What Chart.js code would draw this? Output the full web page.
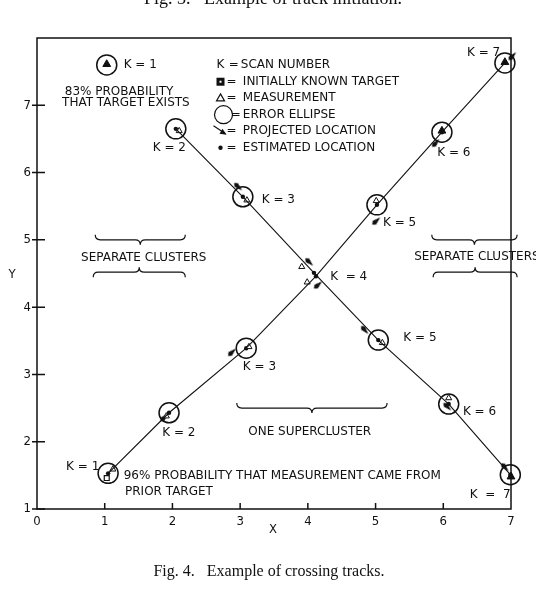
<!DOCTYPE html>
<html>
<head>
<meta charset="utf-8">
<script src="https://cdn.jsdelivr.net/npm/chart.js@4.4.0/dist/chart.umd.min.js"></script>
<style>
  html, body { margin: 0; padding: 0; background: #fff; }
  canvas { display: block; }
</style>
</head>
<body>
<canvas id="crossingChart" width="536" height="604"></canvas>
<script>
// scan number K = 1..7
const scans = [1, 2, 3, 4, 5, 6, 7];

// track rising from lower left (initially known target at K = 1)
const estAX = [1.05, 1.95, 3.09, 4.12, 5.02, 5.98, 6.91];
const estAY = [1.53, 2.43, 3.39, 4.46, 5.52, 6.60, 7.63];
const measAX = [1.12, 1.91, 3.13, 3.99, 5.01, 5.98, 6.91];
const measAY = [1.59, 2.38, 3.41, 4.37, 5.58, 6.62, 7.64];
const projAX = [null, 1.88, 2.88, 4.15, 5.01, 5.89, 7.02];
const projAY = [null, 2.36, 3.33, 4.33, 5.28, 6.44, 7.73];
const filledA = [false, false, false, false, false, true, true];

// track falling from upper left (new target at K = 1)
const estBX = [1.03, 2.05, 3.04, 4.09, 5.04, 6.08, 6.99];
const estBY = [7.60, 6.65, 5.64, 4.51, 3.51, 2.56, 1.51];
const measBX = [1.03, 2.10, 3.10, 3.91, 5.10, 6.08, 7.00];
const measBY = [7.61, 6.62, 5.59, 4.60, 3.47, 2.65, 1.48];
const projBX = [null, null, 2.97, 4.02, 4.84, 6.06, 6.91];
const projBY = [null, null, 5.79, 4.67, 3.66, 2.52, 1.62];
const filledB = [true, false, false, false, false, false, true];

const knownTargetX = [1.03];
const knownTargetY = [1.46];

const xTicks = [0, 1, 2, 3, 4, 5, 6, 7];
const yTicks = [1, 2, 3, 4, 5, 6, 7];

// text notes placed in data units: [text, x, y]
const notes = [
    ['K = 1', 1.28, 7.60],
    ['83% PROBABILITY', 0.41, 7.20],
    ['THAT TARGET EXISTS', 0.37, 7.03],
    ['K = 2', 1.71, 6.36],
    ['K = 3', 3.32, 5.59],
    ['K = 7', 6.35, 7.78],
    ['K = 6', 5.91, 6.29],
    ['K = 5', 5.11, 5.25],
    ['SEPARATE CLUSTERS', 0.65, 4.73],
    ['SEPARATE CLUSTERS', 5.57, 4.74],
    ['K  = 4', 4.33, 4.45],
    ['K = 5', 5.41, 3.54],
    ['K = 3', 3.04, 3.11],
    ['K = 2', 1.85, 2.13],
    ['ONE SUPERCLUSTER', 3.12, 2.14],
    ['K = 6', 6.29, 2.44],
    ['K = 1', 0.43, 1.62],
    ['96% PROBABILITY THAT MEASUREMENT CAME FROM', 1.28, 1.49],
    ['PRIOR TARGET', 1.30, 1.25],
    ['K  =  7', 6.39, 1.21]
];

const keyRows = [
    ['K', 'SCAN NUMBER', 7.60],
    ['square', 'INITIALLY KNOWN TARGET', 7.35],
    ['triangle', 'MEASUREMENT', 7.11],
    ['circle', 'ERROR ELLIPSE', 6.86],
    ['arrow', 'PROJECTED LOCATION', 6.62],
    ['dot', 'ESTIMATED LOCATION', 6.37]
];

// braces: [x1, x2, y, tip direction (1 = down, -1 = up)]
const braces = [
    [0.86, 2.19, 5.00, 1],
    [0.83, 2.19, 4.52, -1],
    [5.83, 7.09, 5.00, 1],
    [5.85, 7.09, 4.52, -1],
    [2.95, 5.17, 2.50, 1]
];

const FONT = '"DejaVu Sans", sans-serif';
const TICK_FONT = '"DejaVu Sans Condensed", "DejaVu Sans", sans-serif';
const black = '#111';

const pts = (xs, ys, keep) => xs
    .map((x, i) => ({ x: x, y: ys[i], i: i }))
    .filter(p => p.x !== null && (!keep || keep(p.i)));

const arrowPts = (px, py, ex, ey) => pts(px, py).map(p => ({
    x: p.x, y: p.y, fx: ex[p.i - 1], fy: ey[p.i - 1]
}));

// slim arrowhead marker, pointing up before rotation
const arrowHead = document.createElement('canvas');
arrowHead.width = 6;
arrowHead.height = 11;
(function () {
    const g = arrowHead.getContext('2d');
    g.fillStyle = black;
    g.beginPath();
    g.moveTo(3, 0);
    g.lineTo(5.5, 8);
    g.lineTo(3, 11);
    g.lineTo(0.5, 8);
    g.closePath();
    g.fill();
})();

function arrowRotation(c) {
    const p = c.raw;
    if (!p || p.fx === undefined) return 0;
    const xs = c.chart.scales.x, ys = c.chart.scales.y;
    const dx = xs.getPixelForValue(p.x) - xs.getPixelForValue(p.fx);
    const dy = ys.getPixelForValue(p.y) - ys.getPixelForValue(p.fy);
    return Math.atan2(dx, -dy) * 180 / Math.PI;
}

function drawBrace(ctx, x1, x2, y, dir) {
    const h = 5, r = 5, xm = (x1 + x2) / 2;
    ctx.beginPath();
    ctx.moveTo(x1, y - dir * h);
    ctx.quadraticCurveTo(x1, y, x1 + r, y);
    ctx.lineTo(xm - r, y);
    ctx.quadraticCurveTo(xm, y, xm, y + dir * h);
    ctx.quadraticCurveTo(xm, y, xm + r, y);
    ctx.lineTo(x2 - r, y);
    ctx.quadraticCurveTo(x2, y, x2, y - dir * h);
    ctx.stroke();
}

const figurePlugin = {
    id: 'figure',
    beforeDraw(chart) {
        const ctx = chart.ctx;
        ctx.save();
        ctx.fillStyle = '#fff';
        ctx.fillRect(0, 0, chart.width, chart.height);
        ctx.restore();
    },
    afterDraw(chart) {
        const ctx = chart.ctx;
        const a = chart.chartArea;
        const X = v => chart.scales.x.getPixelForValue(v);
        const Y = v => chart.scales.y.getPixelForValue(v);
        ctx.save();
        ctx.strokeStyle = black;
        ctx.fillStyle = black;

        // frame and inner ticks
        ctx.lineWidth = 1.5;
        ctx.strokeRect(a.left, a.top, a.right - a.left, a.bottom - a.top);
        ctx.beginPath();
        yTicks.forEach(v => { ctx.moveTo(a.left - 5, Y(v)); ctx.lineTo(a.left + 8, Y(v)); });
        xTicks.slice(1, -1).forEach(v => { ctx.moveTo(X(v), a.bottom); ctx.lineTo(X(v), a.bottom - 6); });
        ctx.stroke();

        // braces
        ctx.lineWidth = 1.2;
        braces.forEach(b => drawBrace(ctx, X(b[0]), X(b[1]), Y(b[2]), b[3]));

        // notes
        ctx.font = '12px ' + FONT;
        ctx.textBaseline = 'middle';
        ctx.textAlign = 'left';
        notes.forEach(n => ctx.fillText(n[0], X(n[1]), Y(n[2])));

        // key
        const sx = X(2.71);
        keyRows.forEach(row => {
            const y = Y(row[2]);
            ctx.lineWidth = 1.2;
            if (row[0] === 'K') {
                ctx.fillText('K', X(2.65), y);
                ctx.fillText('=', X(2.83), y);
                ctx.fillText(row[1], X(3.01), y);
                return;
            }
            if (row[0] === 'square') {
                ctx.fillRect(sx - 4, y - 4, 8, 8);
                ctx.fillStyle = '#fff';
                ctx.fillRect(sx - 1, y - 1, 2, 2);
                ctx.fillStyle = black;
            } else if (row[0] === 'triangle') {
                ctx.beginPath();
                ctx.moveTo(sx, y - 4); ctx.lineTo(sx + 4, y + 3); ctx.lineTo(sx - 4, y + 3);
                ctx.closePath(); ctx.stroke();
            } else if (row[0] === 'circle') {
                ctx.beginPath(); ctx.arc(sx + 3, y, 9, 0, Math.PI * 2); ctx.stroke();
            } else if (row[0] === 'arrow') {
                ctx.beginPath(); ctx.moveTo(sx - 7, y - 5); ctx.lineTo(sx + 5, y + 3); ctx.stroke();
                ctx.beginPath(); ctx.moveTo(sx + 6, y + 4); ctx.lineTo(sx - 1, y + 3); ctx.lineTo(sx + 2, y - 2);
                ctx.closePath(); ctx.fill();
            } else if (row[0] === 'dot') {
                ctx.beginPath(); ctx.arc(sx, y, 2.2, 0, Math.PI * 2); ctx.fill();
            }
            ctx.fillText('=', X(row[0] === 'circle' ? 2.86 : 2.80), y);
            ctx.fillText(row[1], X(3.04), y);
        });

        // axis titles
        ctx.font = '13px ' + TICK_FONT;
        ctx.textAlign = 'center';
        ctx.fillText('Y', 12, (a.top + a.bottom) / 2 + 1);
        ctx.fillText('X', (a.left + a.right) / 2 - 1, a.bottom + 21);

        // captions
        ctx.font = '16px "Liberation Serif", "DejaVu Serif", serif';
        ctx.textBaseline = 'alphabetic';
        ctx.fillText('Fig. 4.   Example of crossing tracks.', 269, 576);
        ctx.font = '18px "Liberation Serif", "DejaVu Serif", serif';
        ctx.fillText('Fig. 3.   Example of track initiation.', 273, 4);
        ctx.restore();
    }
};

new Chart(document.getElementById('crossingChart'), {
    type: 'scatter',
    data: {
        datasets: [{
            label: 'Track A',
            data: pts(estAX, estAY),
            showLine: true,
            borderColor: black,
            borderWidth: 1.1,
            pointRadius: 0,
            clip: false
        }, {
            label: 'Track B',
            data: pts(estBX, estBY, i => i > 0),
            showLine: true,
            borderColor: black,
            borderWidth: 1.1,
            pointRadius: 0,
            clip: false
        }, {
            label: 'Error ellipse',
            data: pts(estAX, estAY, i => scans[i] !== 4).concat(pts(estBX, estBY, i => scans[i] !== 4)),
            pointStyle: 'circle',
            pointRadius: 10,
            borderColor: black,
            borderWidth: 1.5,
            backgroundColor: 'rgba(0,0,0,0)',
            clip: false
        }, {
            label: 'Measurement',
            data: pts(measAX, measAY, i => !filledA[i]).concat(pts(measBX, measBY, i => !filledB[i])),
            pointStyle: 'triangle',
            pointRadius: 3.5,
            borderColor: black,
            borderWidth: 1,
            backgroundColor: '#fff',
            clip: false
        }, {
            label: 'Measurement (target)',
            data: pts(measAX, measAY, i => filledA[i]).concat(pts(measBX, measBY, i => filledB[i])),
            pointStyle: 'triangle',
            pointRadius: 4.5,
            borderColor: black,
            borderWidth: 1,
            backgroundColor: black,
            clip: false
        }, {
            label: 'Initially known target',
            data: pts(knownTargetX, knownTargetY),
            pointStyle: 'rect',
            pointRadius: 3.5,
            borderColor: black,
            borderWidth: 1.2,
            backgroundColor: '#fff',
            clip: false
        }, {
            label: 'Estimated location',
            data: pts(estAX, estAY).concat(pts(estBX, estBY, i => i > 0)),
            pointStyle: 'circle',
            pointRadius: 2.2,
            borderWidth: 0,
            backgroundColor: black,
            clip: false
        }, {
            label: 'Projected location',
            data: arrowPts(projAX, projAY, estAX, estAY).concat(arrowPts(projBX, projBY, estBX, estBY)),
            pointStyle: arrowHead,
            rotation: arrowRotation,
            clip: false
        }]
    },
    options: {
        responsive: false,
        animation: false,
        devicePixelRatio: 1,
        layout: { padding: { top: 38, right: 25, left: 0, bottom: 0 } },
        plugins: {
            legend: { display: false },
            tooltip: { enabled: false }
        },
        scales: {
            x: {
                type: 'linear',
                min: 0,
                max: 7,
                afterFit: s => { s.height = 95; },
                afterBuildTicks: s => { s.ticks = xTicks.map(v => ({ value: v })); },
                grid: { display: false, drawTicks: false },
                border: { display: false },
                ticks: { color: black, padding: 5, font: { size: 13, family: TICK_FONT } }
            },
            y: {
                type: 'linear',
                min: 1,
                max: 8,
                afterFit: s => { s.width = 37; },
                afterBuildTicks: s => { s.ticks = yTicks.map(v => ({ value: v })); },
                grid: { display: false, drawTicks: false },
                border: { display: false },
                ticks: { color: black, padding: 6, font: { size: 13, family: TICK_FONT } }
            }
        }
    },
    plugins: [figurePlugin]
});
</script>
</body>
</html>
